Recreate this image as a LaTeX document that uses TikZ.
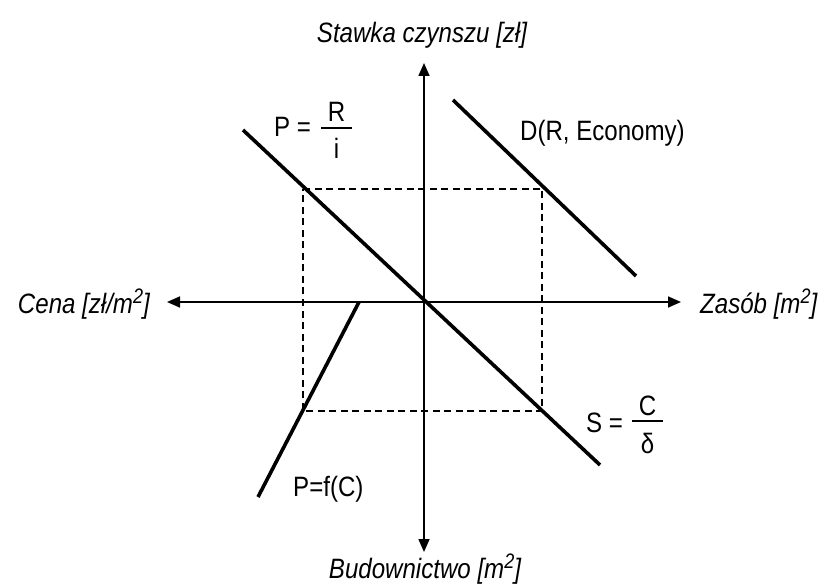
\documentclass[tikz,border=0pt]{standalone}
\usepackage{fontspec}
\setmainfont{Liberation Sans}[FakeStretch=0.86]
\usetikzlibrary{arrows.meta}
\newcommand{\sqm}{m\raisebox{0.34em}{\fontsize{21}{21}\selectfont 2}}
\begin{document}
\begin{tikzpicture}[x=1pt,y=-1pt,
  lbl/.style={font=\fontsize{28}{30}\selectfont, inner sep=0pt},
  axlbl/.style={font=\fontsize{28}{30}\selectfont\itshape, inner sep=0pt},
  axis/.style={line width=1.6pt, -{Triangle[length=13pt,width=11pt]}},
  curve/.style={line width=3.6pt},
  fracbar/.style={line width=1.5pt},
  guide/.style={line width=1.3pt, dash pattern=on 7pt off 4.5pt}]
\useasboundingbox (0,0) rectangle (824,585);
% coordinates
\coordinate (O) at (424,302);
\coordinate (up) at (424,63);
\coordinate (down) at (424,552);
\coordinate (left) at (167,302);
\coordinate (right) at (681,302);
\coordinate (Pa) at (243,130);
\coordinate (Pb) at (600,465);
\coordinate (Da) at (453,100);
\coordinate (Db) at (636,276);
\coordinate (Fa) at (359,302);
\coordinate (Fb) at (258,497);
\coordinate (r1) at (303,189);
\coordinate (r2) at (542,189);
\coordinate (r3) at (542,411);
\coordinate (r4) at (303,411);
\coordinate (pb1) at (321,128);
\coordinate (pb2) at (352,128);
\coordinate (sb1) at (632,421);
\coordinate (sb2) at (663,421);
% dashed rectangle
\draw[guide] (r1) -- (r2) -- (r3) -- (r4) -- cycle;
% axes
\draw[axis] (O) -- (up);
\draw[axis] (O) -- (down);
\draw[axis] (O) -- (left);
\draw[axis] (O) -- (right);
% curves
\draw[curve] (Pa) -- (Pb);
\draw[curve] (Da) -- (Db);
\draw[curve] (Fa) -- (Fb);
% axis labels
\node[axlbl, anchor=base] (ty) at (422,43) {Stawka czynszu [zł]};
\node[axlbl, anchor=base] (by) at (425,578) {Budownictwo [\sqm]};
\node[axlbl, anchor=base east] (lx) at (150,313) {Cena [zł/\sqm]};
\node[axlbl, anchor=base west] (rx) at (700,313) {Zasób [\sqm]};
% P = R/i
\node[lbl, anchor=base west] (lp) at (274,137) {P =};
\draw[fracbar] (pb1) -- (pb2);
\node[lbl, anchor=base] (lpn) at (336.5,122) {R};
\node[lbl, anchor=base] (lpd) at (336.5,159) {i};
% S = C/delta
\node[lbl, anchor=base west] (ls) at (586,432) {S =};
\draw[fracbar] (sb1) -- (sb2);
\node[lbl, anchor=base] (lsn) at (647.5,415) {C};
\node[lbl, anchor=base] (lsd) at (647.5,453) {δ};
% other labels
\node[lbl, anchor=base west] (ld) at (520,141) {D(R, Economy)};
\node[lbl, anchor=base west] (lf) at (293,496) {P=f(C)};
\end{tikzpicture}
\end{document}
